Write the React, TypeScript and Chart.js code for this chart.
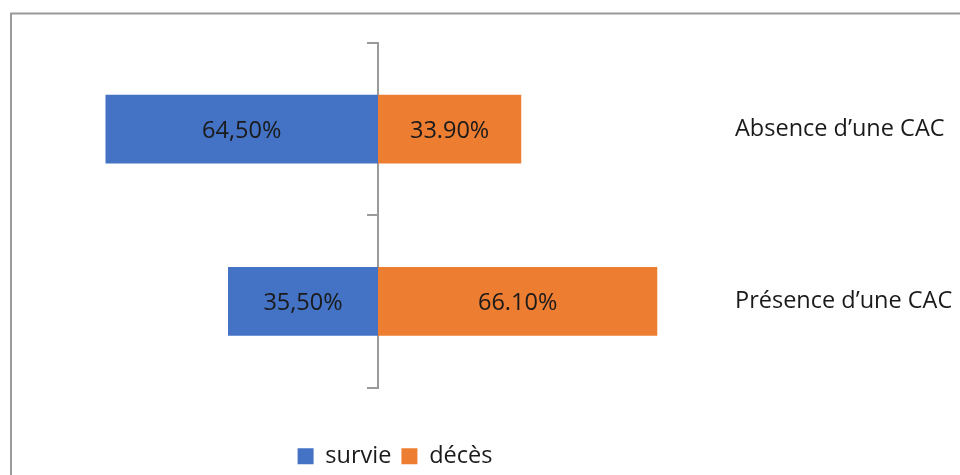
import React, { useEffect, useRef } from "react";
import { Chart, registerables } from "chart.js";

Chart.register(...registerables);

const categories = ["Absence d’une CAC", "Présence d’une CAC"];
const survieValues = [64.5, 35.5];
const decesValues = [33.9, 66.1];
const survieLabels = ["64,50%", "35,50%"];
const decesLabels = ["33.90%", "66.10%"];
const seriesNames = ["survie", "décès"];

const FONT = "'Open Sans', 'Noto Sans', sans-serif";
const FS = 23.5;

const framePlugin = {
  id: "frame",
  beforeDraw(chart: any) {
    const ctx = chart.ctx;
    ctx.save();
    ctx.fillStyle = "#ffffff";
    ctx.fillRect(0, 0, chart.width, chart.height);
    ctx.strokeStyle = "#9a9a9a";
    ctx.lineWidth = 2;
    ctx.beginPath();
    ctx.moveTo(11, chart.height);
    ctx.lineTo(11, 13.5);
    ctx.lineTo(chart.width, 13.5);
    ctx.stroke();
    ctx.restore();
  },
};

const legendShiftPlugin = {
  id: "legendShift",
  afterLayout(chart: any) {
    const lg = chart.legend;
    if (!lg) return;
    const delta = 395 - (lg.left + lg.right) / 2;
    lg.left += delta;
    lg.right += delta;
    lg.top += 3;
    lg.bottom += 3;
  },
};

const barLabelPlugin = {
  id: "barLabels",
  afterDatasetsDraw(chart: any) {
    const ctx = chart.ctx;
    const labelSets = [survieLabels, decesLabels];
    ctx.save();
    ctx.fillStyle = "#1a1a1a";
    ctx.font = `${FS}px ${FONT}`;
    ctx.textAlign = "center";
    ctx.textBaseline = "middle";
    chart.data.datasets.forEach((ds: any, di: number) => {
      const meta = chart.getDatasetMeta(di);
      meta.data.forEach((bar: any, i: number) => {
        const cx = (bar.x + bar.base) / 2;
        ctx.fillText(labelSets[di][i], cx, bar.y + 2);
      });
    });
    ctx.restore();
  },
};

export default function App() {
  const ref = useRef<HTMLCanvasElement | null>(null);
  useEffect(() => {
    if (!ref.current) return;
    const chart = new Chart(ref.current, {
      type: "bar",
      data: {
        labels: categories,
        datasets: [
          {
            label: seriesNames[0],
            data: survieValues.map((v) => -v),
            backgroundColor: "#4472C4",
            yAxisID: "y",
            barPercentage: 0.4,
            categoryPercentage: 1,
          },
          {
            label: seriesNames[1],
            data: decesValues,
            backgroundColor: "#ED7D31",
            yAxisID: "y",
            barPercentage: 0.4,
            categoryPercentage: 1,
          },
        ],
      },
      options: {
        indexAxis: "y",
        animation: false,
        responsive: false,
        maintainAspectRatio: false,
        layout: { padding: { left: 40, top: 43, right: 0, bottom: 0 } },
        scales: {
          x: {
            type: "linear",
            min: -80,
            max: 80,
            stacked: true,
            display: true,
            ticks: { display: false },
            grid: { display: false },
            border: { display: false },
            afterFit: (s: any) => {
              s.height = 44;
            },
          },
          y: {
            type: "category",
            stacked: true,
            position: { x: 0 } as any,
            ticks: { display: false },
            grid: {
              display: true,
              drawOnChartArea: false,
              drawTicks: true,
              tickLength: 10,
              color: "#9a9a9a",
              lineWidth: 2,
              offset: true,
            },
            border: { display: true, color: "#9a9a9a", width: 2 },
          },
          y2: {
            type: "category",
            position: "right",
            labels: categories,
            offset: true,
            grid: { display: false, drawTicks: false },
            border: { display: false },
            ticks: {
              color: "#1a1a1a",
              font: { family: FONT, size: FS },
              padding: 19,
            },
            afterFit: (s: any) => {
              s.width = 244;
            },
          },
        },
        plugins: {
          legend: {
            position: "bottom",
            labels: {
              color: "#1a1a1a",
              font: { family: FONT, size: FS },
              boxWidth: 16,
              boxHeight: 16,
              padding: 10,
            },
          },
          tooltip: { enabled: false },
        },
      },
      plugins: [framePlugin, legendShiftPlugin, barLabelPlugin],
    });
    return () => chart.destroy();
  }, []);
  return (
    <div style={{ position: "fixed", left: 0, top: 0, width: 960, height: 475 }}>
      <canvas ref={ref} width={960} height={475} style={{ width: 960, height: 475 }} />
    </div>
  );
}
